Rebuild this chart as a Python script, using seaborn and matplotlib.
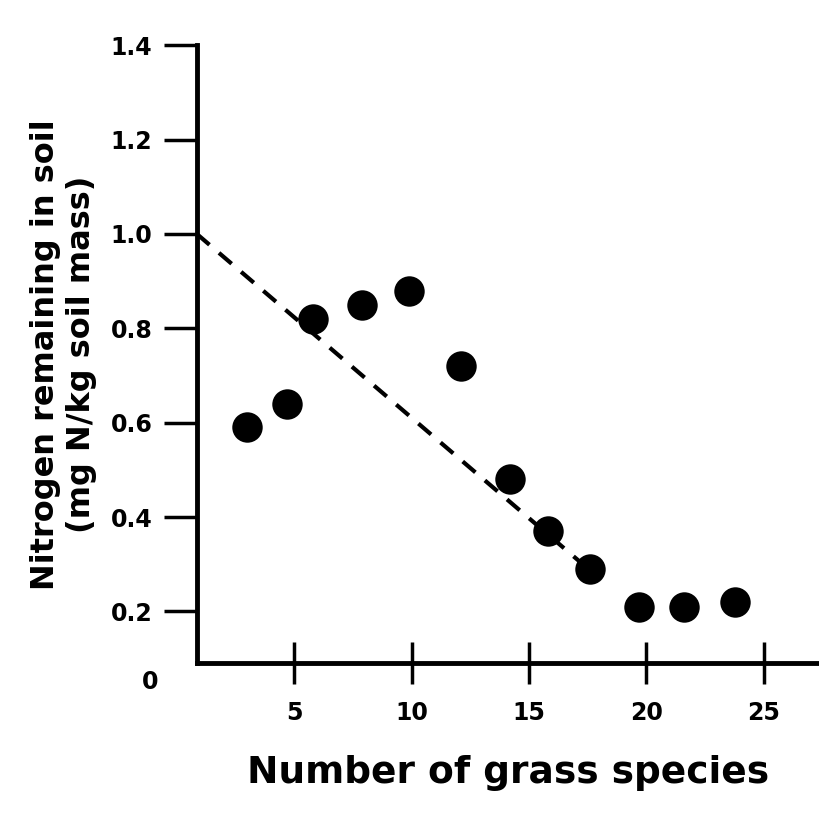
import pandas as pd
import matplotlib
matplotlib.use("Agg")
import matplotlib.pyplot as plt
import seaborn as sns

# data
species = [3.0, 4.7, 5.8, 7.9, 9.9, 12.1, 14.2, 15.8, 17.6, 19.7, 21.6, 23.8]
nitrogen = [0.59, 0.64, 0.82, 0.85, 0.88, 0.72, 0.48, 0.37, 0.29, 0.21, 0.21, 0.22]

# dashed trend line (endpoints)
trend_x = [0.85, 18.0]
trend_y = [1.00, 0.27]

x_ticks = [5, 10, 15, 20, 25]
y_ticks = [0.2, 0.4, 0.6, 0.8, 1.0, 1.2, 1.4]
y_labels = ["0.2", "0.4", "0.6", "0.8", "1.0", "1.2", "1.4"]

df = pd.DataFrame({"species": species, "nitrogen": nitrogen})

sns.set_style("white", {"xtick.bottom": True, "ytick.left": True})
plt.rcParams['font.family'] = ['DejaVu Sans']
plt.rcParams['text.color'] = 'black'
plt.rcParams['axes.labelcolor'] = 'black'
plt.rcParams['xtick.color'] = 'black'
plt.rcParams['ytick.color'] = 'black'

fig = plt.figure(figsize=(8.2, 8.21), dpi=100)
ax = fig.add_axes([0.24, 0.192, 0.76, 0.753])

sns.lineplot(x=trend_x, y=trend_y, ax=ax, color="black", linestyle=(0, (4, 3)), linewidth=3)
sns.scatterplot(data=df, x="species", y="nitrogen", ax=ax, color="black", s=480,
                edgecolor="black", linewidth=0, zorder=3)

ax.set_xlim(0.85, 27.4)
ax.set_ylim(0.09, 1.4)
ax.set_xticks(x_ticks)
ax.set_yticks(y_ticks)
ax.set_xticklabels([str(v) for v in x_ticks], fontsize=17, fontweight="bold")
ax.set_yticklabels(y_labels, fontsize=17, fontweight="bold")
ax.tick_params(axis="x", bottom=True, direction="inout", length=30, width=2.5, pad=12)
ax.tick_params(axis="y", left=True, direction="out", length=24, width=2.5, pad=8)

sns.despine(ax=ax)
for side in ["left", "bottom"]:
    ax.spines[side].set_linewidth(3.5)
    ax.spines[side].set_color("black")

ax.text(-0.075, -0.03, "0", transform=ax.transAxes, fontsize=17, fontweight="bold",
        ha="center", va="center")

ax.set_xlabel("Number of grass species", fontsize=27, fontweight="bold", labelpad=22)
ax.set_ylabel("Nitrogen remaining in soil\n(mg N/kg soil mass)", fontsize=23,
              fontweight="bold", labelpad=10)

fig.savefig("out.png", dpi=100)
